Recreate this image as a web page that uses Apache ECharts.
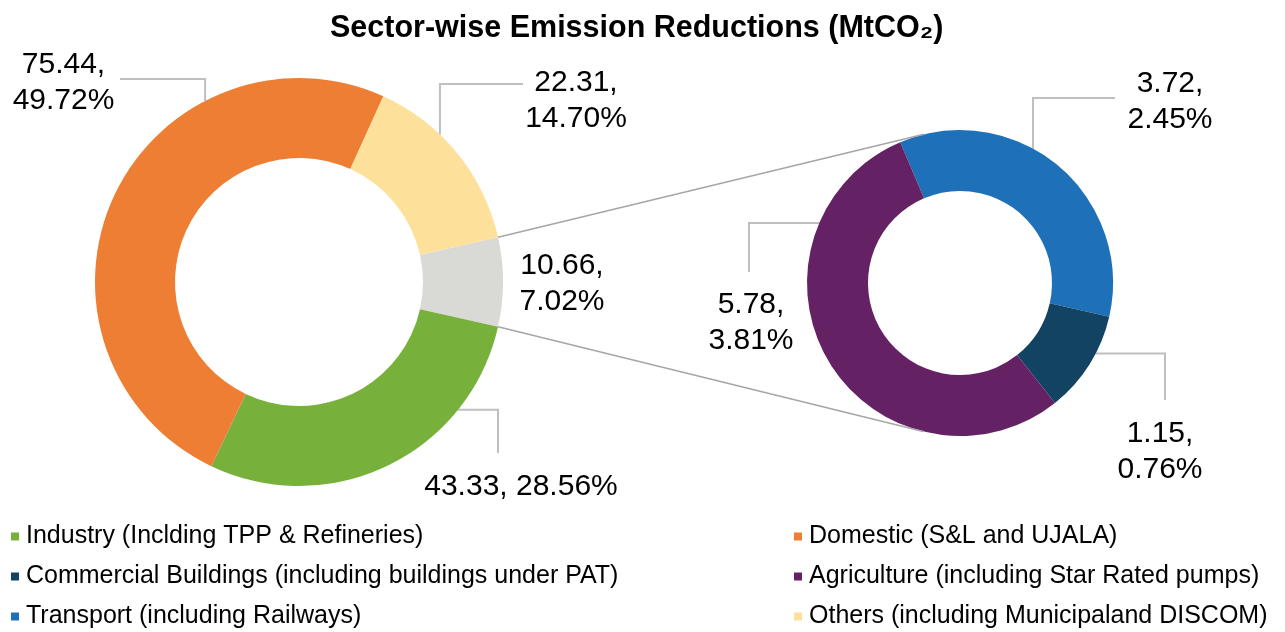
<!DOCTYPE html>
<html>
<head>
<meta charset="utf-8">
<script src="https://cdn.jsdelivr.net/npm/echarts@6/dist/echarts.min.js"></script>
<style>html,body{margin:0;padding:0;background:#fff}#c{width:1285px;height:632px}</style>
</head>
<body>
<div id="c"></div>
<script>
// ---------------- DATA ----------------
const mainCategories = [
  'Commercial, Agriculture & Transport',
  'Industry (Inclding TPP & Refineries)',
  'Domestic (S&L and UJALA)',
  'Others (including Municipaland DISCOM)'
];
const mainValues = [10.66, 43.33, 75.44, 22.31];       // MtCO2
const mainShares = [7.02, 28.56, 49.72, 14.70];        // % of total, as printed

const subCategories = [
  'Transport (including Railways)',
  'Commercial Buildings (including buildings under PAT)',
  'Agriculture (including Star Rated pumps)'
];
const subValues = [3.72, 1.15, 5.78];                  // MtCO2
const subShares = [2.45, 0.76, 3.81];                  // % of total, as printed

const legendLeftNames = [mainCategories[1], subCategories[1], subCategories[0]];
const legendRightNames = [mainCategories[2], subCategories[2], mainCategories[3]];

// ---------------- STYLE ----------------
const FONT = '"Liberation Sans", Arial, Helvetica, sans-serif';
const colors = {};
colors[mainCategories[0]] = '#d9d9d6';
colors[mainCategories[1]] = '#77b13b';
colors[mainCategories[2]] = '#ed7e33';
colors[mainCategories[3]] = '#fde19b';
colors[subCategories[0]] = '#1e71b8';
colors[subCategories[1]] = '#134362';
colors[subCategories[2]] = '#642264';

const G1 = {cx: 299, cy: 282, r0: 124, r1: 204};   // main donut geometry
const G2 = {cx: 960, cy: 283, r0: 92, r1: 153};    // secondary donut geometry

// label placement relative to its donut centre; leader: attach angle a (deg),
// elbow type ('v' = vertical first, 'h' = horizontal first), end point ex/ey
const labelSpec = {};
labelSpec[mainCategories[0]] = {dx: 263, dy: 2};
labelSpec[mainCategories[1]] = {dx: 222, dy: 205, oneLine: true, a: -38.8, leg: 'h', ex: 199, ey: 171};
labelSpec[mainCategories[2]] = {dx: -235.5, dy: -199, a: 117.4, leg: 'v', ex: -179, ey: -203};
labelSpec[mainCategories[3]] = {dx: 277, dy: -181, a: 46.3, leg: 'v', ex: 224, ey: -198};
labelSpec[subCategories[0]] = {dx: 210, dy: -181.5, a: 61.5, leg: 'v', ex: 155, ey: -185};
labelSpec[subCategories[1]] = {dx: 200, dy: 168.5, a: -27.4, leg: 'h', ex: 205, ey: 117};
labelSpec[subCategories[2]] = {dx: -209, dy: 39.5, a: 156.9, leg: 'h', ex: -211, ey: -11};

function place(g, name) {
  const s = labelSpec[name];
  const res = {x: g.cx + s.dx, y: g.cy + s.dy, align: 'center', verticalAlign: 'middle'};
  if (s.a != null) {
    const rad = s.a * Math.PI / 180;
    const sx = g.cx + g.r1 * Math.cos(rad), sy = g.cy - g.r1 * Math.sin(rad);
    const ex = g.cx + s.ex, ey = g.cy + s.ey;
    const mid = s.leg === 'v' ? [sx, ey] : [ex, sy];
    res.labelLinePoints = [[sx, sy], mid, [ex, ey]];
  }
  return res;
}

function fmt(name, value, share) {
  const s = labelSpec[name];
  return value.toFixed(2) + ',' + (s.oneLine ? ' ' : '\n') + share.toFixed(2) + '%';
}

const mainTotal = mainValues.reduce((a, b) => a + b, 0);
const mainStart = 180 * mainValues[0] / mainTotal;   // centre the grey slice on the right

const mainData = mainCategories.map((n, i) => ({
  name: n, value: mainValues[i],
  itemStyle: {color: colors[n]},
  labelLine: {show: labelSpec[n].a != null}
}));
const subData = subCategories.map((n, i) => ({
  name: n, value: subValues[i],
  itemStyle: {color: colors[n]},
  labelLine: {show: labelSpec[n].a != null}
}));

// connector lines: grey slice outer corners -> tangents of the secondary donut
function tangentPoint(px, py, g, upper) {
  const vx = px - g.cx, vy = py - g.cy;
  const d = Math.hypot(vx, vy);
  const phi = Math.atan2(vy, vx), beta = Math.acos(g.r1 / d);
  const c = [phi + beta, phi - beta].map(t => [g.cx + g.r1 * Math.cos(t), g.cy + g.r1 * Math.sin(t)]);
  c.sort((p, q) => p[1] - q[1]);
  return upper ? c[0] : c[1];
}
const connectors = [1, -1].map(sgn => {
  const rad = sgn * mainStart * Math.PI / 180;
  const px = G1.cx + G1.r1 * Math.cos(rad), py = G1.cy - G1.r1 * Math.sin(rad);
  const t = tangentPoint(px, py, G2, sgn > 0);
  return {
    type: 'line', z: 10, silent: true,
    shape: {x1: px, y1: py, x2: t[0], y2: t[1]},
    style: {stroke: '#a6a6a6', lineWidth: 1.5}
  };
});

const labelCommon = {
  show: true, position: 'outside',
  fontFamily: FONT, fontSize: 30, lineHeight: 36, color: '#000'
};
const lineCommon = {show: true, length: 10, length2: 10, lineStyle: {color: '#bfbfbf', width: 2}};

const legendCommon = {
  type: 'plain', orient: 'vertical', top: 524, height: 140, padding: 0,
  itemWidth: 8, itemHeight: 8, itemGap: 15,
  icon: 'rect', selectedMode: false,
  textStyle: {fontFamily: FONT, fontSize: 25, color: '#000', lineHeight: 25, padding: [0, 0, 0, 2]}
};

const chart = echarts.init(document.getElementById('c'), null, {renderer: 'canvas'});
chart.setOption({
  animation: false,
  backgroundColor: '#fff',
  title: {
    text: 'Sector-wise Emission Reductions (MtCO\u2082)',
    left: 330, top: 13, padding: 0,
    textStyle: {fontFamily: FONT, fontWeight: 'bold', fontSize: 30.5, color: '#000'}
  },
  legend: [
    Object.assign({left: 11, data: legendLeftNames}, legendCommon),
    Object.assign({left: 794, data: legendRightNames}, legendCommon)
  ],
  graphic: connectors,
  series: [
    {
      type: 'pie', silent: true,
      center: [G1.cx, G1.cy], radius: [G1.r0, G1.r1],
      startAngle: mainStart, clockwise: true, avoidLabelOverlap: false,
      itemStyle: {borderWidth: 0},
      emphasis: {disabled: true},
      label: Object.assign({formatter: p => fmt(p.name, mainValues[p.dataIndex], mainShares[p.dataIndex])}, labelCommon),
      labelLine: lineCommon,
      labelLayout: p => place(G1, mainCategories[p.dataIndex]),
      data: mainData
    },
    {
      type: 'pie', silent: true,
      center: [G2.cx, G2.cy], radius: [G2.r0, G2.r1],
      startAngle: 113, clockwise: true, avoidLabelOverlap: false,
      itemStyle: {borderWidth: 0},
      emphasis: {disabled: true},
      label: Object.assign({formatter: p => fmt(p.name, subValues[p.dataIndex], subShares[p.dataIndex])}, labelCommon),
      labelLine: lineCommon,
      labelLayout: p => place(G2, subCategories[p.dataIndex]),
      data: subData
    }
  ]
});
</script>
</body>
</html>
